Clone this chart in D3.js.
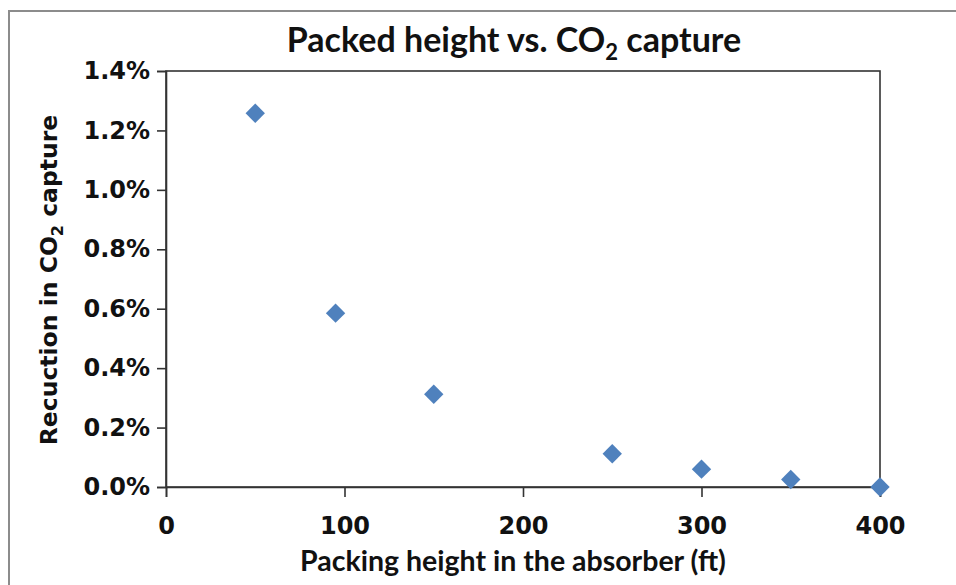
<!DOCTYPE html>
<html>
<head>
<meta charset="utf-8">
<script src="https://cdn.jsdelivr.net/npm/d3@7"></script>
<style>
  html, body { margin: 0; padding: 0; background: #fff; }
  svg { display: block; font-family: Lato, "Open Sans", sans-serif; font-weight: bold; }
</style>
</head>
<body>
<div id="chart"></div>
<script>
// packing height (ft) vs reduction in CO2 capture (fraction)
const heights = [50, 95, 150, 250, 300, 350, 400];
const reduction = [0.01258, 0.00585, 0.00312, 0.00112, 0.00060, 0.00025, 0.0];
const xTicks = [0, 100, 200, 300, 400];
const yTicks = [0, 0.002, 0.004, 0.006, 0.008, 0.010, 0.012, 0.014];

const W = 956, H = 585;
const plot = { left: 166, right: 880, top: 71, bottom: 487 };
const tickFont = "'DejaVu Sans', Verdana, sans-serif";

const svg = d3.select("#chart").append("svg")
    .attr("width", W).attr("height", H);

// outer chart frame (cut off at right / bottom like the source)
svg.append("path")
    .attr("d", `M9,${H + 2} V11 H${W + 2}`)
    .attr("fill", "none")
    .attr("stroke", "#8c8c8c")
    .attr("stroke-width", 2);

const x = d3.scaleLinear().domain([0, 400]).range([plot.left, plot.right]);
const y = d3.scaleLinear().domain([0, 0.014]).range([plot.bottom, plot.top]);

// plot box
svg.append("rect")
    .attr("x", plot.left).attr("y", plot.top)
    .attr("width", plot.right - plot.left)
    .attr("height", plot.bottom - plot.top)
    .attr("fill", "none")
    .attr("stroke", "#333")
    .attr("stroke-width", 1.6);

const xAxis = svg.append("g")
    .attr("transform", `translate(0,${plot.bottom})`)
    .call(d3.axisBottom(x).tickValues(xTicks).tickSize(10).tickPadding(20));

const yAxis = svg.append("g")
    .attr("transform", `translate(${plot.left},0)`)
    .call(d3.axisLeft(y).tickValues(yTicks).tickSize(9).tickPadding(7)
        .tickFormat(d3.format(".1%")));

[xAxis, yAxis].forEach(g => {
    g.select(".domain").attr("stroke", "#333").attr("stroke-width", 1.6);
    g.selectAll(".tick line").attr("stroke", "#333").attr("stroke-width", 1.6);
    g.selectAll(".tick text")
        .attr("fill", "#111")
        .style("font-size", "24px")
        .style("font-family", tickFont)
        .style("font-weight", "bold");
});

// diamond markers
const diamond = d3.symbol().type(d3.symbolDiamond2).size(240);
svg.append("g").selectAll("path")
    .data(heights.map((h, i) => [h, reduction[i]]))
    .join("path")
    .attr("transform", d => `translate(${x(d[0])},${y(d[1])})`)
    .attr("d", diamond)
    .attr("fill", "#4F81BD");

// title
const title = svg.append("text")
    .attr("x", 514)
    .attr("y", 52)
    .attr("text-anchor", "middle")
    .attr("fill", "#111")
    .style("font-size", "34px");
title.append("tspan").text("Packed height vs. CO");
title.append("tspan").attr("dy", 8).style("font-size", "22px").text("2");
title.append("tspan").attr("dy", -8).text(" capture");

// x-axis title
svg.append("text")
    .attr("x", 513)
    .attr("y", 571)
    .attr("text-anchor", "middle")
    .attr("fill", "#111")
    .style("font-size", "28.5px")
    .text("Packing height in the absorber (ft)");

// y-axis title
const yTitle = svg.append("text")
    .attr("transform", `translate(57,${(plot.top + plot.bottom) / 2 + 1}) rotate(-90)`)
    .attr("text-anchor", "middle")
    .attr("fill", "#111")
    .style("font-family", tickFont)
    .style("font-size", "23.5px");
yTitle.append("tspan").text("Recuction in CO");
yTitle.append("tspan").attr("dy", 6).style("font-size", "16px").text("2");
yTitle.append("tspan").attr("dy", -6).text(" capture");
</script>
</body>
</html>
